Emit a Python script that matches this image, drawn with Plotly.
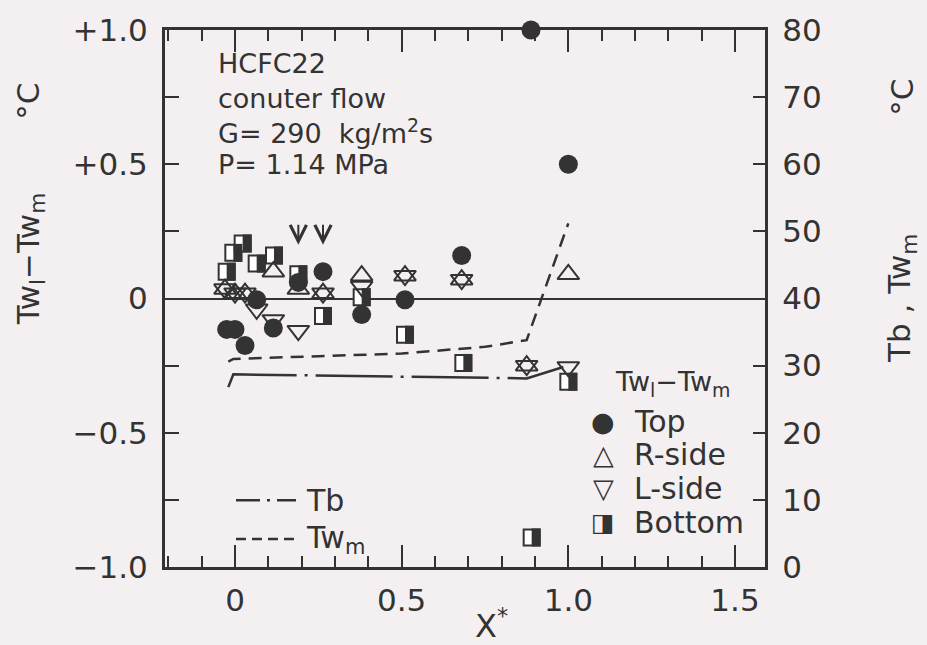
import plotly.graph_objects as go

# ---------------- data ----------------
top_x = [-0.025, 0.0, 0.03, 0.065, 0.115, 0.19, 0.264, 0.38, 0.51, 0.68, 0.888, 1.0]
top_y = [-0.115, -0.115, -0.175, -0.005, -0.11, 0.06, 0.10, -0.06, -0.005, 0.16, 1.0, 0.50]

rside_x = [-0.03, 0.0, 0.03, 0.115, 0.19, 0.264, 0.38, 0.51, 0.68, 0.875, 1.0]
rside_y = [0.035, 0.02, 0.02, 0.10, 0.035, 0.02, 0.085, 0.085, 0.07, -0.25, 0.09]

lside_x = [-0.03, 0.0, 0.03, 0.065, 0.115, 0.19, 0.264, 0.38, 0.51, 0.68, 0.875, 1.0]
lside_y = [0.035, 0.02, 0.02, -0.04, -0.08, -0.12, 0.02, 0.045, 0.085, 0.07, -0.25, -0.255]

bottom_x = [-0.025, -0.005, 0.023, 0.065, 0.117, 0.19, 0.264, 0.38, 0.51, 0.685, 0.89, 1.0]
bottom_y = [0.10, 0.17, 0.205, 0.13, 0.16, 0.09, -0.065, 0.005, -0.135, -0.24, -0.89, -0.31]

tb_x = [-0.02, -0.005, 0.875, 0.985]
tb_y = [26.8, 28.7, 28.1, 29.8]

twm_x = [-0.02, -0.005, 0.25, 0.5, 0.75, 0.875, 1.0]
twm_y = [30.6, 31.0, 31.4, 31.8, 32.8, 33.8, 51.2]

arrow_x = [0.19, 0.264]
arrow_tip_y = 0.20

x_tickvals = [0, 0.5, 1.0, 1.5]
x_ticktext = ["0", "0.5", "1.0", "1.5"]
y_tickvals = [-1.0, -0.75, -0.5, -0.25, 0.0, 0.25, 0.5, 0.75, 1.0]
y_ticktext = ["\u22121.0", "", "\u22120.5", "", "0", "", "+0.5", "", "+1.0"]
y2_tickvals = [0, 10, 20, 30, 40, 50, 60, 70, 80]

# ---------------- style ----------------
INK = "#333333"
BG = "#f4f0f1"
FONT = "DejaVu Sans"
W, H = 927, 645
L, R, T, B = 165, 765, 28, 567


def pxx(p):
    return (p - L) / (R - L)


def pxy(p):
    return (B - p) / (B - T)


fig = go.Figure()

# temperature lines (right axis)
fig.add_trace(go.Scatter(x=tb_x, y=tb_y, yaxis="y2", mode="lines", name="Tb",
                         line=dict(color=INK, width=2.5, dash="77px,8px,3px,8px")))
fig.add_trace(go.Scatter(x=twm_x, y=twm_y, yaxis="y2", mode="lines", name="Tw_m",
                         line=dict(color=INK, width=2.5, dash="13px,8px")))

# wall temperature difference markers (left axis)
fig.add_trace(go.Scatter(x=bottom_x, y=bottom_y, mode="markers", name="Bottom",
                         marker=dict(symbol="square", size=16, color="white",
                                     line=dict(color=INK, width=2))))
fig.add_trace(go.Scatter(x=rside_x, y=rside_y, mode="markers", name="R-side",
                         marker=dict(symbol="triangle-up-open", size=19, color=INK,
                                     line=dict(color=INK, width=2))))
fig.add_trace(go.Scatter(x=lside_x, y=lside_y, mode="markers", name="L-side",
                         marker=dict(symbol="triangle-down-open", size=19, color=INK,
                                     line=dict(color=INK, width=2))))
fig.add_trace(go.Scatter(x=top_x, y=top_y, mode="markers", name="Top", cliponaxis=False,
                         marker=dict(symbol="circle", size=19, color=INK,
                                     line=dict(color=INK, width=0))))

shapes = []
# filled right half of the "Bottom" squares, anchored at the data points
for bx, by in zip(bottom_x, bottom_y):
    shapes.append(dict(type="rect", xref="x", yref="y", xsizemode="pixel", ysizemode="pixel",
                       xanchor=bx, yanchor=by, x0=0, x1=9, y0=-9, y1=9,
                       fillcolor=INK, line=dict(width=0), layer="above"))

# line legend samples (lower left)
shapes.append(dict(type="line", xref="paper", yref="paper", x0=pxx(236), x1=pxx(296),
                   y0=pxy(500), y1=pxy(500), line=dict(color=INK, width=2.5, dash="24px,7px,3px,7px")))
shapes.append(dict(type="line", xref="paper", yref="paper", x0=pxx(236), x1=pxx(296),
                   y0=pxy(539), y1=pxy(539), line=dict(color=INK, width=2.5, dash="10px,6px")))

ann = []


def txt(x, y, s, size=28, xanchor="center", angle=0, family=FONT):
    ann.append(dict(x=pxx(x), y=pxy(y), xref="paper", yref="paper", text=s, showarrow=False,
                    xanchor=xanchor, yanchor="middle", textangle=angle,
                    font=dict(family=family, size=size, color=INK)))


# info block
txt(216, 62, "HCFC22", 27, "left")
txt(216, 97, "conuter flow", 27, "left")
txt(216, 130, "G= 290  kg/m<sup>2</sup>s", 27, "left")
txt(216, 163, "P= 1.14 MPa", 27, "left")

# marker legend
txt(613, 383, "Tw<sub>l</sub>\u2212Tw<sub>m</sub>", 27, "left")
txt(603, 421, "\u25cf", 27)
txt(603, 454, "\u25b3", 27)
txt(603, 488, "\u25bd", 27)
txt(603, 522, "\u25e8", 25)
txt(632, 421, "Top", 30, "left")
txt(632, 454, "R-side", 30, "left")
txt(632, 488, "L-side", 30, "left")
txt(632, 522, "Bottom", 30, "left")

# line legend labels
txt(304, 500, "Tb", 30, "left")
txt(304, 539, "Tw<sub>m</sub>", 30, "left")

# axis titles
txt(30, 258, "Tw<sub>l</sub>\u2212Tw<sub>m</sub>", 31, angle=-90)
txt(28, 100, "\u00b0C", 31, angle=-90)
txt(902, 298, "Tb , Tw<sub>m</sub>", 31, angle=-90)
txt(902, 96, "\u00b0C", 31, angle=-90)
txt(491, 624, "X<sup>*</sup>", 32)

# arrows
for axv in arrow_x:
    ann.append(dict(x=axv, y=arrow_tip_y, xref="x", yref="y", ax=axv, ay=arrow_tip_y + 0.08,
                    axref="x", ayref="y", text="", showarrow=True, arrowhead=5,
                    arrowsize=1.6, arrowwidth=2, arrowcolor=INK))

fig.update_layout(
    width=W, height=H,
    margin=dict(l=L, r=W - R, t=T, b=H - B),
    paper_bgcolor=BG, plot_bgcolor=BG,
    showlegend=False,
    font=dict(family=FONT, size=31, color=INK),
    shapes=shapes, annotations=ann,
    xaxis=dict(range=[-0.21, 1.59], tickvals=x_tickvals, ticktext=x_ticktext,
               ticks="inside", ticklen=22, tickwidth=2, tickcolor=INK,
               showline=True, linewidth=3, linecolor=INK, mirror="ticks",
               showgrid=False, zeroline=False, ticklabelstandoff=4,
               minor=dict(dtick=0.1, tick0=0, ticks="inside", ticklen=11,
                          tickwidth=2, tickcolor=INK, showgrid=False)),
    yaxis=dict(range=[-1.0, 1.0], tickvals=y_tickvals, ticktext=y_ticktext,
               ticks="inside", ticklen=14, tickwidth=2, tickcolor=INK,
               showline=True, linewidth=3, linecolor=INK, mirror=False,
               showgrid=False, zeroline=True, zerolinewidth=2, zerolinecolor=INK,
               ticklabelstandoff=8),
    yaxis2=dict(range=[0, 80], tickvals=y2_tickvals, overlaying="y", side="right",
                ticks="inside", ticklen=12, tickwidth=2, tickcolor=INK,
                showline=True, linewidth=3, linecolor=INK,
                showgrid=False, zeroline=False, ticklabelstandoff=8),
)

fig.write_html("out.html")
